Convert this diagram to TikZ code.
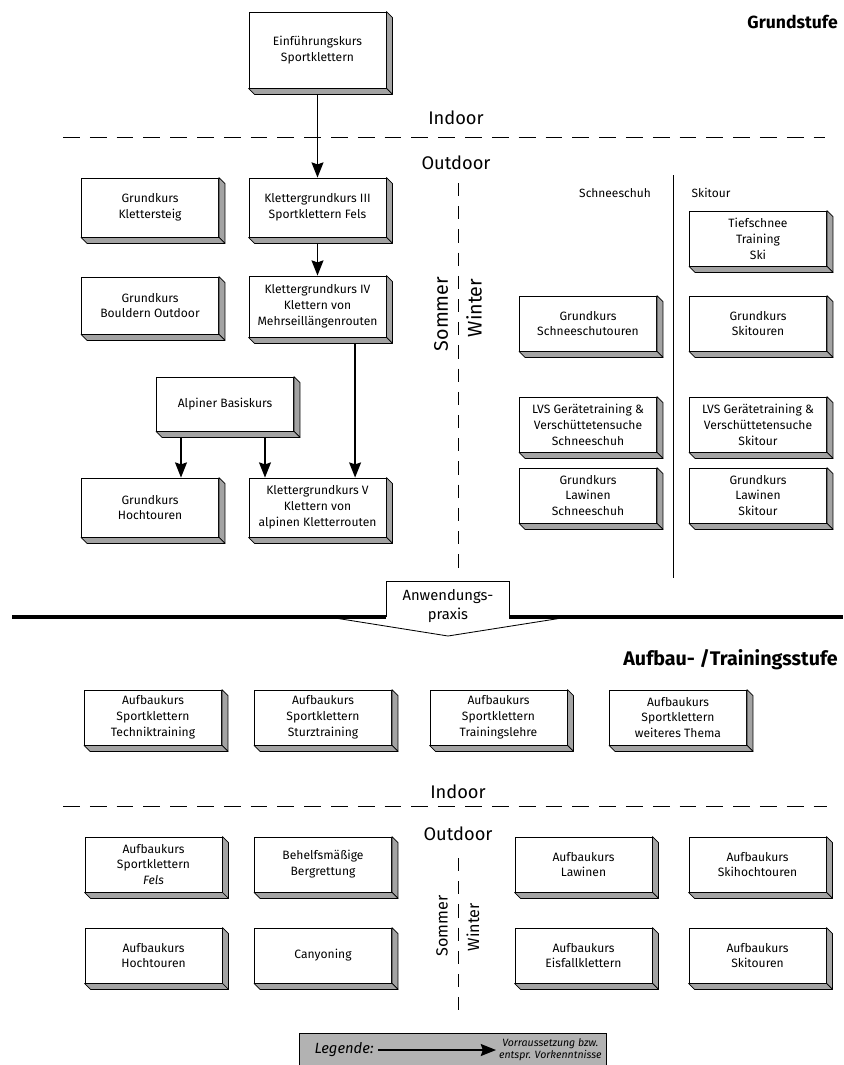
\documentclass[tikz,border=0pt]{standalone}
\usepackage{fontspec}
\setmainfont{Fira Sans}
\usepackage{xcolor}
\usepackage{tikz}
\usetikzlibrary{positioning}
\usetikzlibrary{calc}
\usetikzlibrary{arrows.meta}

\definecolor{seite}{gray}{0.64}
\definecolor{legendgrau}{gray}{0.70}

\begin{document}
\begin{tikzpicture}
  [
    x=0.025cm, y=-0.025cm,
    kurs/.style={
       draw=black,
       fill=white,
       line width=0.6pt,
       align=center,
       inner sep=0pt,
       minimum width=3.425cm,
       minimum height=1.375cm,
       font=\fontsize{8.6}{11.3}\selectfont
    },
    seitenflaeche/.style={
       draw=black,
       fill=seite,
       line width=0.5pt,
       line join=round
    },
    pfeil/.style={
       draw=black,
       line width=0.9pt,
       -{Stealth[length=3.8mm, width=3mm, inset=0.5mm]}
    },
    trenn/.style={
       draw=black,
       line width=0.7pt,
       dash pattern=on 0.42cm off 0.25cm
    },
    bereich/.style={
       inner sep=1pt,
       font=\fontsize{13}{15}\selectfont
    },
    bereichklein/.style={
       inner sep=1pt,
       font=\fontsize{11.5}{13}\selectfont
    },
    spalte/.style={
       inner sep=1pt,
       font=\fontsize{8.5}{10}\selectfont
    },
    stufe/.style={
       anchor=east,
       inner sep=0pt,
       font=\bfseries\fontsize{14}{16}\selectfont
    }
  ]
  \useasboundingbox (0,0) rectangle (843,1065);

  % Grundstufe
  \node (grundstufe) at (838,22) [stufe, font=\bfseries\fontsize{12.5}{14}\selectfont] {Grundstufe};

  \node (einf)     at (317.5, 50.0) [kurs, minimum height=1.9cm]   {Einführungskurs\\Sportklettern};
  \node (steig)    at (150.0,207.5) [kurs, minimum height=1.475cm] {Grundkurs\\Klettersteig};
  \node (kl3)      at (317.5,207.5) [kurs, minimum height=1.475cm] {Klettergrundkurs III\\Sportklettern Fels};
  \node (bouldern) at (150.0,305.5) [kurs, minimum height=1.425cm] {Grundkurs\\Bouldern Outdoor};
  \node (kl4)      at (317.5,306.5) [kurs, minimum height=1.525cm] {Klettergrundkurs IV\\Klettern von\\Mehrseillängenrouten};
  \node (alpin)    at (225.0,404.0) [kurs, minimum height=1.35cm]  {Alpiner Basiskurs};
  \node (hoch)     at (150.0,507.5) [kurs, minimum height=1.475cm] {Grundkurs\\Hochtouren};
  \node (kl5)      at (317.5,507.5) [kurs, minimum height=1.475cm] {Klettergrundkurs V\\Klettern von\\alpinen Kletterrouten};

  \node (tief)     at (758.0,238.5) [kurs] {Tiefschnee\\Training\\Ski};
  \node (schneeGK) at (588.0,323.5) [kurs] {Grundkurs\\Schneeschutouren};
  \node (skiGK)    at (758.0,323.5) [kurs] {Grundkurs\\Skitouren};
  \node (lvsS)     at (588.0,424.5) [kurs] {LVS Gerätetraining \&\\Verschüttetensuche\\Schneeschuh};
  \node (lvsK)     at (758.0,424.5) [kurs] {LVS Gerätetraining \&\\Verschüttetensuche\\Skitour};
  \node (lawS)     at (588.0,495.5) [kurs] {Grundkurs\\Lawinen\\Schneeschuh};
  \node (lawK)     at (758.0,495.5) [kurs] {Grundkurs\\Lawinen\\Skitour};

  \node (indoor1)     at (456,118) [bereich] {Indoor};
  \node (outdoor1)    at (456,163) [bereich] {Outdoor};
  \node (sommer1)     at (441,314) [bereich, rotate=90, font=\fontsize{14}{16}\selectfont] {Sommer};
  \node (winter1)     at (474,308) [bereich, rotate=90, font=\fontsize{14}{16}\selectfont] {Winter};
  \node (schneeschuh) at (615,193) [spalte] {Schneeschuh};
  \node (skitour)     at (711,193) [spalte] {Skitour};

  \draw [trenn] (63,137) -- (825,137);
  \draw [trenn, dash pattern=on 0.33cm off 0.25cm] (458,183) -- (458,577);
  \draw [line width=0.7pt] (673,175) -- (673,578);

  \draw [pfeil] (einf) -- (kl3);
  \draw [pfeil] (kl3) -- (kl4);
  \draw [pfeil] ([xshift=0.94cm]kl4.south) -- ([xshift=0.94cm]kl5.north);
  \draw [pfeil] ([xshift=-1.1cm]alpin.south) -- ([xshift=-1.1cm]alpin.south |- hoch.north);
  \draw [pfeil] ([xshift=1.0cm]alpin.south) -- ([xshift=1.0cm]alpin.south |- kl5.north);

  % Anwendungspraxis
  \node (praxis) at (448,606) [align=center, inner sep=0pt, font=\fontsize{10.5}{13.4}\selectfont] {Anwendungs-\\praxis};
  \draw [line width=2.4pt] (12,617) -- (386,617);
  \draw [line width=2.4pt] (509,617) -- (843,617);
  \draw [line width=0.6pt] (386,617) -- (386,581) -- (509,581) -- (509,617);
  \draw [line width=0.6pt, line join=round] (335,618) -- (448,636) -- (562,618);

  % Aufbau- /Trainingsstufe
  \node (aufbaustufe) at (838,660) [stufe] {Aufbau- /Trainingsstufe};

  \node (technik)  at (153.0,717.5) [kurs] {Aufbaukurs\\Sportklettern\\Techniktraining};
  \node (sturz)    at (323.0,717.5) [kurs] {Aufbaukurs\\Sportklettern\\Sturztraining};
  \node (lehre)    at (498.5,717.5) [kurs] {Aufbaukurs\\Sportklettern\\Trainingslehre};
  \node (thema)    at (678.0,717.5) [kurs] {Aufbaukurs\\Sportklettern\\weiteres Thema};

  \node (indoor2)  at (458,792) [bereich] {Indoor};
  \node (outdoor2) at (458,834) [bereich] {Outdoor};
  \node (sommer2)  at (442,926) [bereichklein, rotate=90] {Sommer};
  \node (winter2)  at (473,927) [bereichklein, rotate=90] {Winter};

  \draw [trenn] (63,806) -- (827,806);
  \draw [trenn, dash pattern=on 0.33cm off 0.25cm] (458,858) -- (458,1013);

  \node (fels)     at (153.5,864.5) [kurs] {Aufbaukurs\\Sportklettern\\\textit{Fels}};
  \node (rettung)  at (323.0,864.5) [kurs] {Behelfsmäßige\\Bergrettung};
  \node (lawinen)  at (583.5,864.5) [kurs] {Aufbaukurs\\Lawinen};
  \node (skihoch)  at (757.5,864.5) [kurs] {Aufbaukurs\\Skihochtouren};
  \node (hochA)    at (153.5,955.5) [kurs] {Aufbaukurs\\Hochtouren};
  \node (canyon)   at (323.0,955.5) [kurs] {Canyoning};
  \node (eisfall)  at (583.5,955.5) [kurs] {Aufbaukurs\\Eisfallklettern};
  \node (skiA)     at (757.5,955.5) [kurs] {Aufbaukurs\\Skitouren};

  % Seitenflaechen der Kaesten
  \foreach \k in {einf, steig, kl3, bouldern, kl4, alpin, hoch, kl5,
                  tief, schneeGK, skiGK, lvsS, lvsK, lawS, lawK,
                  technik, sturz, lehre, thema,
                  fels, rettung, lawinen, skihoch, hochA, canyon, eisfall, skiA}{
    \filldraw [seitenflaeche] (\k.north east) -- ++(6,6) -- ($(\k.south east)+(6,6)$) -- (\k.south east) -- cycle;
    \filldraw [seitenflaeche] (\k.south west) -- ++(6,6) -- ($(\k.south east)+(6,6)$) -- (\k.south east) -- cycle;
  }

  % Legende
  \draw [fill=legendgrau, line width=0.6pt] (299,1033) rectangle (606,1066);
  \node (legende)  at (310,1050) [anchor=west, inner sep=3pt, font=\itshape\fontsize{10.5}{12}\selectfont] {Legende:};
  \node (legtext)  at (496,1050) [anchor=west, align=center, inner sep=2pt, font=\itshape\fontsize{7.5}{8.5}\selectfont]
                   {Vorraussetzung bzw.\\entspr. Vorkenntnisse};
  \draw [pfeil] (legende) -- (legtext);
\end{tikzpicture}
\end{document}
